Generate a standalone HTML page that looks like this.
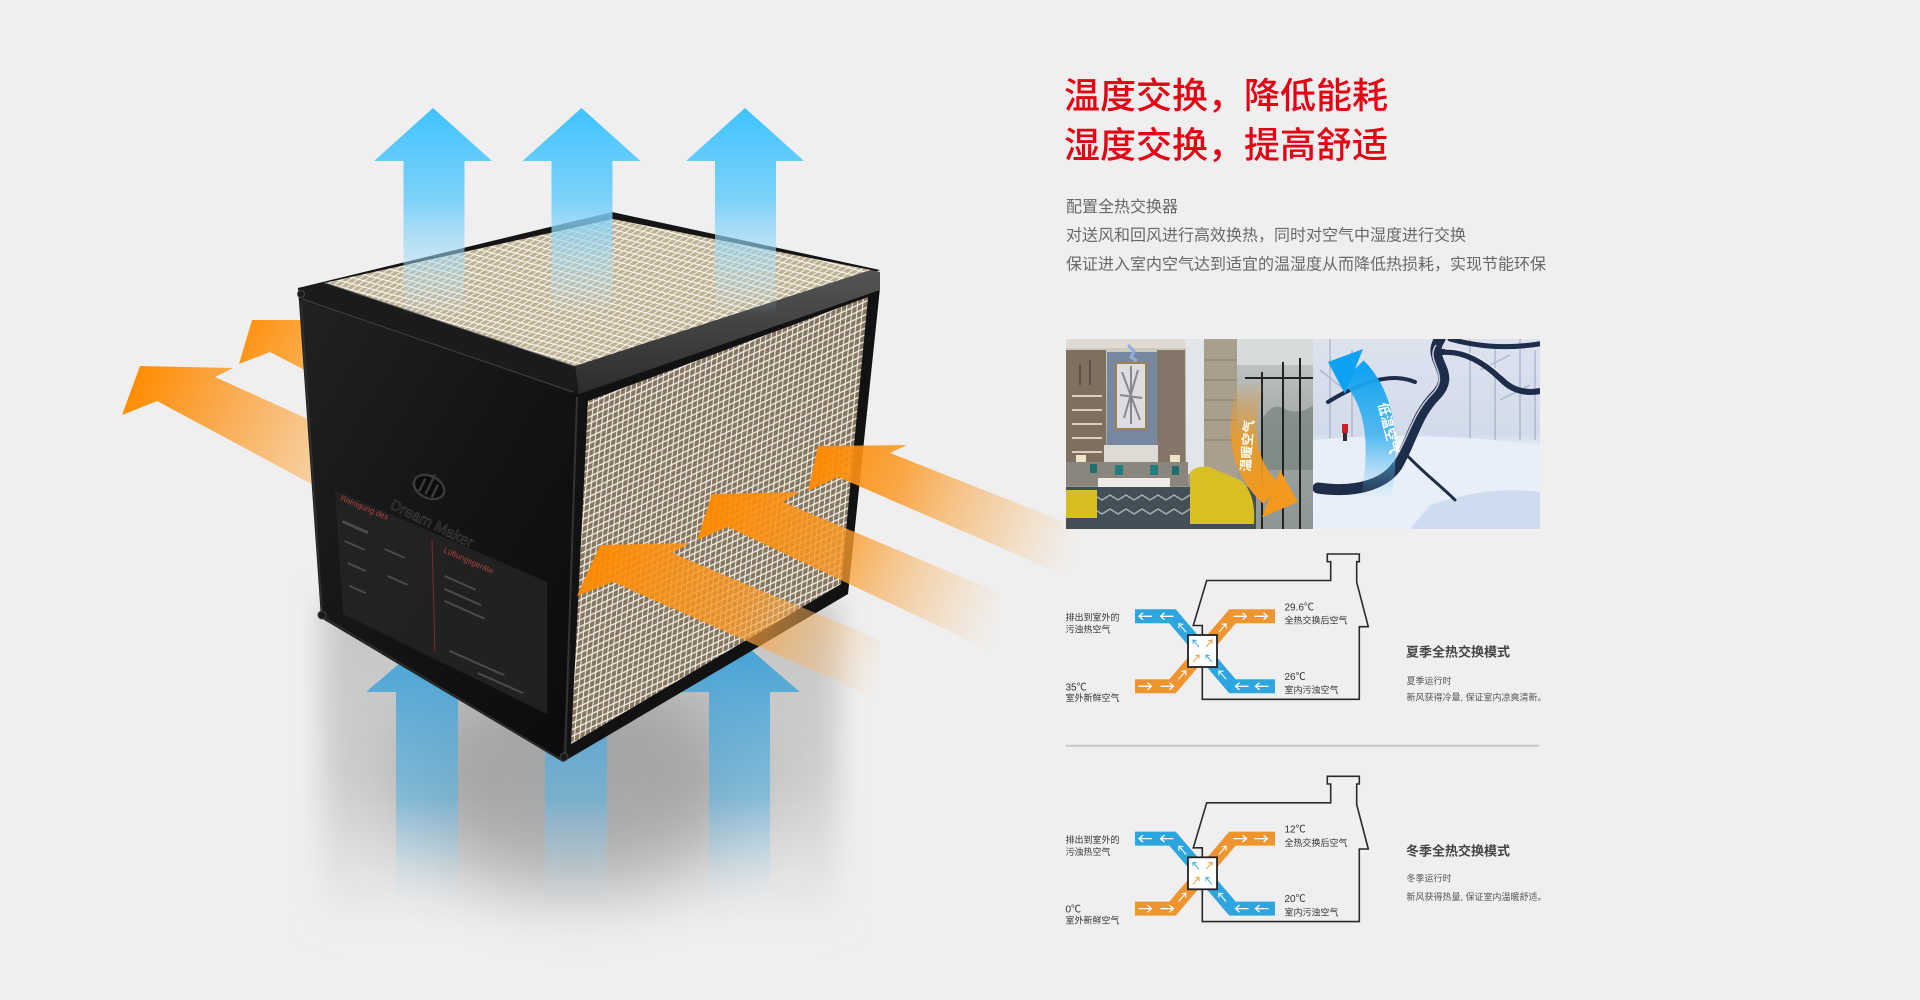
<!DOCTYPE html>
<html><head><meta charset="utf-8"><style>
html,body{margin:0;padding:0;background:#efefef;}
svg{display:block;}
text{font-family:"Liberation Sans","Noto Sans CJK SC",sans-serif;}
</style></head><body>
<svg width="1920" height="1000" viewBox="0 0 1920 1000" xmlns="http://www.w3.org/2000/svg">
<defs>
 <pattern id="meshR" patternUnits="userSpaceOnUse" width="6" height="6" patternTransform="rotate(-25) skewX(-30)">
  <rect width="6" height="6" fill="#857560"/>
  <path d="M0 3H6M3 0V6" stroke="#f4f0e8" stroke-width="1.2"/>
 </pattern>
 <pattern id="meshT" patternUnits="userSpaceOnUse" width="6" height="6" patternTransform="rotate(15) skewX(-40)">
  <rect width="6" height="6" fill="#bdb296"/>
  <path d="M0 3H6M3 0V6" stroke="#fbf8f0" stroke-width="1.2"/>
 </pattern>
 <linearGradient id="oL1" gradientUnits="userSpaceOnUse" x1="130" y1="385" x2="325" y2="470">
  <stop offset="0" stop-color="#ff8c00"/><stop offset="0.35" stop-color="#fba440"/><stop offset="1" stop-color="#f6d3a8"/>
 </linearGradient>
 <linearGradient id="oL2" gradientUnits="userSpaceOnUse" x1="240" y1="330" x2="320" y2="375">
  <stop offset="0" stop-color="#ff9010"/><stop offset="1" stop-color="#fbb458"/>
 </linearGradient>
 <linearGradient id="oR1" gradientUnits="userSpaceOnUse" x1="820" y1="460" x2="1075" y2="560">
  <stop offset="0" stop-color="#ff8a00" stop-opacity="0.95"/><stop offset="0.3" stop-color="#fb9a28" stop-opacity="0.85"/><stop offset="0.7" stop-color="#f7bd78" stop-opacity="0.5"/><stop offset="1" stop-color="#f8d0a0" stop-opacity="0"/>
 </linearGradient>
 <linearGradient id="oR2" gradientUnits="userSpaceOnUse" x1="710" y1="510" x2="1000" y2="630">
  <stop offset="0" stop-color="#ff8a00" stop-opacity="0.95"/><stop offset="0.45" stop-color="#fb9a28" stop-opacity="0.8"/><stop offset="0.75" stop-color="#f7bd78" stop-opacity="0.45"/><stop offset="1" stop-color="#f8d0a0" stop-opacity="0"/>
 </linearGradient>
 <linearGradient id="oR3" gradientUnits="userSpaceOnUse" x1="590" y1="570" x2="880" y2="690">
  <stop offset="0" stop-color="#ff8a00" stop-opacity="0.95"/><stop offset="0.5" stop-color="#fb9a28" stop-opacity="0.75"/><stop offset="0.8" stop-color="#f7bd78" stop-opacity="0.4"/><stop offset="1" stop-color="#f8d0a0" stop-opacity="0"/>
 </linearGradient>
 <linearGradient id="shG" gradientUnits="userSpaceOnUse" x1="0" y1="590" x2="0" y2="930">
  <stop offset="0" stop-color="#c6c6c6"/><stop offset="0.55" stop-color="#cdcdcd"/><stop offset="1" stop-color="#efefef"/>
 </linearGradient>
 <filter id="blur12" x="-30%" y="-30%" width="160%" height="160%"><feGaussianBlur stdDeviation="14"/></filter>
 <filter id="blur35" x="-50%" y="-50%" width="200%" height="200%"><feGaussianBlur stdDeviation="35"/></filter>
 <linearGradient id="bB" gradientUnits="userSpaceOnUse" x1="0" y1="640" x2="0" y2="905">
  <stop offset="0" stop-color="#2b9ad8" stop-opacity="0.85"/><stop offset="0.6" stop-color="#5fb4e2" stop-opacity="0.62"/><stop offset="1" stop-color="#c8e6f6" stop-opacity="0"/>
 </linearGradient>
 <linearGradient id="bT" gradientUnits="userSpaceOnUse" x1="0" y1="108" x2="0" y2="315">
  <stop offset="0" stop-color="#3ec3ff"/><stop offset="0.45" stop-color="#74cffa" stop-opacity="0.92"/><stop offset="0.75" stop-color="#a6dcf6" stop-opacity="0.5"/><stop offset="1" stop-color="#bfe6f8" stop-opacity="0"/>
 </linearGradient>
 <linearGradient id="blk" x1="0" y1="0" x2="1" y2="1">
  <stop offset="0" stop-color="#222"/><stop offset="0.5" stop-color="#141414"/><stop offset="1" stop-color="#0b0b0b"/>
 </linearGradient>
 <linearGradient id="bevR" gradientUnits="userSpaceOnUse" x1="0" y1="270" x2="0" y2="394">
  <stop offset="0" stop-color="#555"/><stop offset="1" stop-color="#2c2c2c"/>
 </linearGradient>
 <clipPath id="cpL"><rect x="1066" y="339" width="247" height="190"/></clipPath>
 <clipPath id="cpR"><rect x="1313" y="339" width="227" height="190"/></clipPath>
 <linearGradient id="wallL" x1="0" y1="0" x2="0" y2="1">
  <stop offset="0" stop-color="#d3cdc1"/><stop offset="0.6" stop-color="#aaa294"/><stop offset="1" stop-color="#85807a"/>
 </linearGradient>
 <linearGradient id="snowBg" x1="0" y1="0" x2="0" y2="1">
  <stop offset="0" stop-color="#dde2ee"/><stop offset="0.5" stop-color="#d2dbea"/><stop offset="0.58" stop-color="#e8eef8"/><stop offset="1" stop-color="#d6e3f3"/>
 </linearGradient>
 <linearGradient id="glass" x1="0" y1="0" x2="0" y2="1">
  <stop offset="0" stop-color="#c9cccc"/><stop offset="0.5" stop-color="#9ea6a4"/><stop offset="1" stop-color="#8d9694"/>
 </linearGradient>
 <linearGradient id="orArc" gradientUnits="userSpaceOnUse" x1="0" y1="380" x2="0" y2="495">
  <stop offset="0" stop-color="#f39a1e" stop-opacity="0"/><stop offset="0.5" stop-color="#f39a1e" stop-opacity="0.8"/><stop offset="1" stop-color="#f39a1e"/>
 </linearGradient>
 <linearGradient id="blArc" gradientUnits="userSpaceOnUse" x1="0" y1="365" x2="0" y2="500">
  <stop offset="0" stop-color="#0ea2f2"/><stop offset="0.55" stop-color="#37b1f0" stop-opacity="0.8"/><stop offset="1" stop-color="#7cc8f0" stop-opacity="0"/>
 </linearGradient>
 <path id="wa" d="M-6.5,0 H6.5 M2.5,-3.5 L6.5,0 L2.5,3.5" fill="none"/>
</defs>

<rect width="1920" height="1000" fill="#efefef"/>

<!-- ===== LEFT PRODUCT ===== -->
<polygon points="122,415 140,366 233,368 215,377 330,429 330,494 157,401" fill="url(#oL1)"/>
<polygon points="239,364 252,320 320,320 320,378 270,352" fill="url(#oL2)"/>

<!-- shadow -->
<rect x="322" y="600" width="516" height="320" fill="url(#shG)" filter="url(#blur12)"/>
<ellipse cx="575" cy="780" rx="170" ry="110" fill="#777" opacity="0.45" filter="url(#blur35)"/>

<!-- bottom blue arrows -->
<polygon points="427,640 488,692 458,692 458,905 396,905 396,692 366,692" fill="url(#bB)"/>
<polygon points="576,640 637,692 607,692 607,905 545,905 545,692 515,692" fill="url(#bB)"/>
<polygon points="739.5,640 800,692 770,692 770,905 709,905 709,692 679,692" fill="url(#bB)"/>

<!-- cube -->
<polygon points="298,288 579,394 563,762 321,618" fill="url(#blk)"/>
<polygon points="577,393 880,272 880,288 848,594 563,762" fill="#121212"/>
<polygon points="588,401 868,297 841,584 571,744" fill="url(#meshR)"/>
<polygon points="298,288 612,212 880,270 579,394" fill="#151515"/>
<polygon points="324,283 613,219 871,270 575,366" fill="url(#meshT)"/>
<polygon points="575,366 871,270 880,272 880,290 579,394" fill="url(#bevR)"/>
<polygon points="298,288 324,283 575,366 579,394 300,300" fill="#1b1b1b"/>
<line x1="326" y1="283" x2="574" y2="366" stroke="#6a6a6a" stroke-width="1"/>
<line x1="302" y1="299" x2="573" y2="392" stroke="#3c3c3c" stroke-width="1.2"/>
<line x1="577" y1="397" x2="565" y2="758" stroke="#333" stroke-width="2"/>
<line x1="301" y1="302" x2="322" y2="612" stroke="#2e2e2e" stroke-width="2"/>
<line x1="323" y1="617" x2="560" y2="759" stroke="#2a2a2a" stroke-width="2"/>
<circle cx="322" cy="615" r="4" fill="#1a1a1a" stroke="#444" stroke-width="1"/>
<circle cx="564" cy="757" r="4" fill="#1a1a1a" stroke="#444" stroke-width="1"/>
<circle cx="301" cy="294" r="3.5" fill="#1a1a1a" stroke="#444" stroke-width="1"/>

<!-- sticker -->
<polygon points="335,490 547,582 547,714 343,614" fill="#242424" opacity="0.85"/>
<line x1="432" y1="540" x2="435" y2="652" stroke="#7a2c28" stroke-width="1"/>
<g transform="translate(429,487) rotate(26)">
 <ellipse cx="0" cy="0" rx="16" ry="11" fill="#0c0c0c" stroke="#3a3a3a" stroke-width="2.5"/>
 <path d="M-7,-6V8M0,-14V8M7,-6V8" stroke="#3a3a3a" stroke-width="2.5"/>
</g>
<text transform="translate(389,508) rotate(26)" font-size="15" fill="#0b0b0b" stroke="#404040" stroke-width="0.7">Dream Maker</text>
<text transform="translate(340,500) rotate(23)" font-size="8" fill="#b0423a">Reinigung des</text>
<text transform="translate(443,552) rotate(24)" font-size="8" fill="#b0423a">Lüftungsgeräte</text>
<g fill="#666" opacity="0.6">
 <rect transform="translate(343,520) rotate(24)" width="28" height="3"/>
 <rect transform="translate(345,540) rotate(24)" width="22" height="2"/>
 <rect transform="translate(348,562) rotate(24)" width="20" height="2"/>
 <rect transform="translate(350,585) rotate(24)" width="18" height="2"/>
 <rect transform="translate(385,548) rotate(24)" width="22" height="2"/>
 <rect transform="translate(388,575) rotate(24)" width="22" height="2"/>
 <rect transform="translate(445,575) rotate(24)" width="34" height="2"/>
 <rect transform="translate(445,588) rotate(24)" width="40" height="2"/>
 <rect transform="translate(445,600) rotate(24)" width="44" height="2"/>
 <rect transform="translate(450,650) rotate(24)" width="60" height="2"/>
 <rect transform="translate(478,672) rotate(24)" width="50" height="2"/>
</g>

<!-- right orange arrows (over cube) -->
<polygon points="577,596 600,545 690,543 672,553 880,640 880,700 613,582" fill="url(#oR3)"/>
<polygon points="697,540 712,494 800,492 783,502 1000,593 1000,655 728,527" fill="url(#oR2)"/>
<polygon points="808,491 818,446 907,445 890,453 1080,528 1080,582 838,477" fill="url(#oR1)"/>

<!-- top blue arrows -->
<polygon points="433,108 492,161 464.5,161 464.5,315 403.5,315 403.5,161 374,161" fill="url(#bT)"/>
<polygon points="581.5,108 640.5,161 612.5,161 612.5,315 551.5,315 551.5,161 522.5,161" fill="url(#bT)"/>
<polygon points="745,108 804,161 776,161 776,315 715,315 715,161 686,161" fill="url(#bT)"/>

<!-- ===== RIGHT TEXT ===== -->
<text x="1064" y="108" font-size="36" font-weight="500" fill="#e60012">温度交换，降低能耗</text>
<text x="1064" y="157.5" font-size="36" font-weight="500" fill="#e60012">湿度交换，提高舒适</text>
<g font-size="16" fill="#686868">
 <text x="1066" y="212">配置全热交换器</text>
 <text x="1066" y="240.5">对送风和回风进行高效换热，同时对空气中湿度进行交换</text>
 <text x="1066" y="269.5">保证进入室内空气达到适宜的温湿度从而降低热损耗，实现节能环保</text>
</g>

<!-- ===== PHOTO LEFT ===== -->
<g clip-path="url(#cpL)">
 <rect x="1066" y="339" width="247" height="190" fill="url(#wallL)"/>
 <rect x="1066" y="339" width="247" height="9" fill="#e0dbd2"/>
 <rect x="1066" y="350" width="40" height="118" fill="#7e6f60"/>
 <g stroke="#d9cfbf" stroke-width="2">
  <path d="M1072,396H1102M1072,410H1102M1072,424H1102M1072,438H1102M1072,452H1102"/>
  <path d="M1160,396H1183M1160,410H1183M1160,424H1183M1160,438H1183M1160,452H1183"/>
 </g>
 <g stroke="#5c5046" stroke-width="2"><path d="M1080,365v20M1090,360v25M1168,365v20M1176,360v25"/></g>
 <rect x="1107" y="352" width="50" height="100" fill="#7887a0"/>
 <rect x="1115" y="362" width="32" height="68" fill="#a08050"/>
 <rect x="1117" y="364" width="28" height="64" fill="#dcdde2"/>
 <path d="M1122,372 L1140,420 M1138,370 L1124,418 M1131,366 V424 M1120,395 L1142,398" stroke="#444" stroke-width="2" opacity="0.55"/>
 <path d="M1128,345 l6,6 l-3,6 l6,4" stroke="#8fb0e0" stroke-width="3" fill="none"/>
 <rect x="1157" y="350" width="28" height="118" fill="#85766a"/>
 <rect x="1186" y="339" width="18" height="135" fill="#e2e6ea"/>
 <rect x="1204" y="339" width="33" height="150" fill="#a99f8f"/>
 <g stroke="#857c6f" stroke-width="1"><path d="M1204,360H1237M1204,380H1237M1204,400H1237M1204,420H1237M1204,440H1237"/></g>
 <rect x="1237" y="339" width="76" height="190" fill="url(#glass)"/>
 <rect x="1237" y="339" width="76" height="26" fill="#d8dbdc"/>
 <path d="M1262,420 q10,-20 25,-10 q15,5 26,-5 V470 H1262Z" fill="#6f7d74" opacity="0.6"/>
 <g stroke="#222" stroke-width="2"><path d="M1262,372V529M1283,362V529M1300,358V529M1245,378H1313"/></g>
 <rect x="1104" y="445" width="54" height="20" fill="#dedad4"/>
 <rect x="1076" y="455" width="10" height="8" fill="#efe4c8"/>
 <rect x="1170" y="455" width="10" height="8" fill="#efe4c8"/>
 <rect x="1066" y="462" width="122" height="24" fill="#8a857d"/>
 <rect x="1115" y="465" width="8" height="10" fill="#1f7f80"/><rect x="1150" y="465" width="8" height="10" fill="#1f7f80"/>
 <rect x="1090" y="464" width="7" height="9" fill="#1f6f70"/><rect x="1172" y="466" width="7" height="9" fill="#1f6f70"/>
 <rect x="1066" y="487" width="190" height="42" fill="#434f56"/>
 <path d="M1070,500 l8,-5 l8,5 l8,-5 l8,5 l8,-5 l8,5 l8,-5 l8,5 l8,-5 l8,5 l8,-5 l8,5 l8,-5 l8,5 l8,-5 l8,5 l8,-5 l8,5 l8,-5 l8,5 M1070,514 l8,-5 l8,5 l8,-5 l8,5 l8,-5 l8,5 l8,-5 l8,5 l8,-5 l8,5 l8,-5 l8,5 l8,-5 l8,5 l8,-5 l8,5 l8,-5 l8,5 l8,-5 l8,5" stroke="#dfe3e2" stroke-width="1.5" fill="none" opacity="0.65"/>
 <rect x="1098" y="478" width="72" height="9" fill="#eeebe5"/>
 <rect x="1066" y="490" width="31" height="28" fill="#d6bd22"/>
 <path d="M1190,472 Q1202,462 1216,470 L1240,480 Q1256,492 1254,524 L1190,524 Z" fill="#d8bf24"/>
 <path d="M1252,380 Q1228,455 1272,494" stroke="url(#orArc)" stroke-width="26" fill="none"/>
 <polygon points="1298,502 1280,470 1262,517" fill="#f39a1e"/>
 <text transform="translate(1250,472) rotate(-86)" font-size="13" font-weight="bold" fill="#fff">温暖空气</text>
</g>

<!-- ===== PHOTO RIGHT ===== -->
<g clip-path="url(#cpR)">
 <rect x="1313" y="339" width="227" height="190" fill="url(#snowBg)"/>
 <g stroke="#8c9bb6" stroke-width="1.5" opacity="0.55" fill="none">
  <path d="M1330,339V440M1352,350V445M1470,339V440M1495,345V445M1520,339V440M1535,350V440"/>
  <path d="M1320,370 L1345,390 M1480,370 L1510,355 M1500,400 L1530,385"/>
 </g>
 <path d="M1313,440 Q1420,430 1540,445 V529 H1313Z" fill="#e9eff8"/>
 <path d="M1430,505 Q1490,485 1540,492 V529 H1410Z" fill="#cfdcef"/>
 <g stroke="#1e2e4a" fill="none" stroke-linecap="round">
  <path d="M1440,339 C1425,360 1458,372 1436,395 C1416,415 1412,440 1397,466 C1386,482 1360,494 1318,488" stroke-width="11"/>
  <path d="M1442,352 C1466,350 1486,364 1502,380 C1512,390 1526,395 1545,390" stroke-width="6"/>
  <path d="M1450,339 C1475,346 1505,350 1545,343" stroke-width="5"/>
  <path d="M1415,382 C1392,372 1360,382 1328,402" stroke-width="4"/>
  <path d="M1404,452 C1420,470 1440,485 1455,500" stroke-width="3"/>
 </g>
 <g stroke="#f2f5fb" fill="none" stroke-width="1.5" opacity="0.8">
  <path d="M1436,345 C1424,362 1452,374 1432,394 C1412,414 1408,440 1393,462"/>
  <path d="M1445,349 C1468,348 1488,362 1503,376"/>
 </g>
 <rect x="1342" y="424" width="6" height="9" fill="#c8222a"/>
 <rect x="1343" y="433" width="4" height="8" fill="#2a2a3a"/>
 <path d="M1353,371 Q1392,410 1376,498" stroke="url(#blArc)" stroke-width="30" fill="none"/>
 <polygon points="1328,362 1363,349 1345,394" fill="#0ea2f2"/>
 <text transform="translate(1378,404) rotate(76)" font-size="13" font-weight="bold" fill="#fff">低温空气</text>
</g>

<!-- ===== DIAGRAM (summer) ===== -->
<g id="diag">
 <path d="M1202.3,699.3 V625.5 H1193.3 L1206.7,580.5 H1330.7 V561.7 H1327.3 V554 H1359.3 V561.7 H1356.7 V582.3 L1368.3,626.7 H1359.3 V699.3 Z" fill="none" stroke="#2a2a2a" stroke-width="1.6"/>
 <polyline points="1135,616.3 1172.5,616.3 1232.5,686.3 1275,686.3" fill="none" stroke="#2da6e0" stroke-width="14"/>
 <polyline points="1135,686.3 1172.5,686.3 1232.5,616.3 1275,616.3" fill="none" stroke="#ef9530" stroke-width="14"/>
 <g stroke="#fff" stroke-width="1.3">
  <use href="#wa" transform="translate(1145.5,616.3) rotate(180)"/>
  <use href="#wa" transform="translate(1167,616.3) rotate(180)"/>
  <use href="#wa" transform="translate(1242,686.3) rotate(180)"/>
  <use href="#wa" transform="translate(1262,686.3) rotate(180)"/>
  <use href="#wa" transform="translate(1145,686.3)"/>
  <use href="#wa" transform="translate(1167,686.3)"/>
  <use href="#wa" transform="translate(1240,616.3)"/>
  <use href="#wa" transform="translate(1261,616.3)"/>
  <use href="#wa" transform="translate(1182.5,628) rotate(-130.6) scale(0.85)"/>
  <use href="#wa" transform="translate(1222.5,675) rotate(-130.6) scale(0.85)"/>
  <use href="#wa" transform="translate(1182.2,675) rotate(-49.4) scale(0.85)"/>
  <use href="#wa" transform="translate(1222.5,628) rotate(-49.4) scale(0.85)"/>
 </g>
 <rect x="1188" y="635" width="29" height="32" fill="#fff" stroke="#222" stroke-width="1.8"/>
 <g stroke-width="1.3">
  <use href="#wa" stroke="#2da6e0" transform="translate(1196,643.5) rotate(-130.6) scale(0.7)"/>
  <use href="#wa" stroke="#ef9530" transform="translate(1209,643.5) rotate(-49.4) scale(0.7)"/>
  <use href="#wa" stroke="#ef9530" transform="translate(1196,658.5) rotate(-49.4) scale(0.7)"/>
  <use href="#wa" stroke="#2da6e0" transform="translate(1209,658.5) rotate(-130.6) scale(0.7)"/>
 </g>
 <g font-size="9" fill="#333">
  <text x="1065.5" y="620.5">排出到室外的</text>
  <text x="1065.5" y="632.5">污浊热空气</text>
  <text x="1065.5" y="701">室外新鲜空气</text>
  <text x="1284.5" y="623.5">全热交换后空气</text>
  <text x="1284.5" y="693">室内污浊空气</text>
 </g>
</g>
<g font-size="10" fill="#333">
 <text x="1065.5" y="690.5">35℃</text>
 <text x="1284.5" y="610.5">29.6℃</text>
 <text x="1284.5" y="680">26℃</text>
 <text x="1065.5" y="912.5">0℃</text>
 <text x="1284.5" y="832.5">12℃</text>
 <text x="1284.5" y="902">20℃</text>
</g>
<text x="1406" y="656.5" font-size="13" font-weight="bold" fill="#444">夏季全热交换模式</text>
<text x="1406.5" y="684" font-size="9" fill="#555">夏季运行时</text>
<text x="1406.5" y="700.6" font-size="9" fill="#555">新风获得冷量, 保证室内凉爽清新。</text>

<line x1="1066" y1="745.7" x2="1539" y2="745.7" stroke="#c6c6c6" stroke-width="2"/>

<!-- ===== DIAGRAM (winter) ===== -->
<use href="#diag" transform="translate(0,222.3)"/>
<text x="1406" y="855.5" font-size="13" font-weight="bold" fill="#444">冬季全热交换模式</text>
<text x="1406.5" y="881.6" font-size="9" fill="#555">冬季运行时</text>
<text x="1406.5" y="900" font-size="9" fill="#555">新风获得热量, 保证室内温暖舒适。</text>
</svg>
</body></html>
